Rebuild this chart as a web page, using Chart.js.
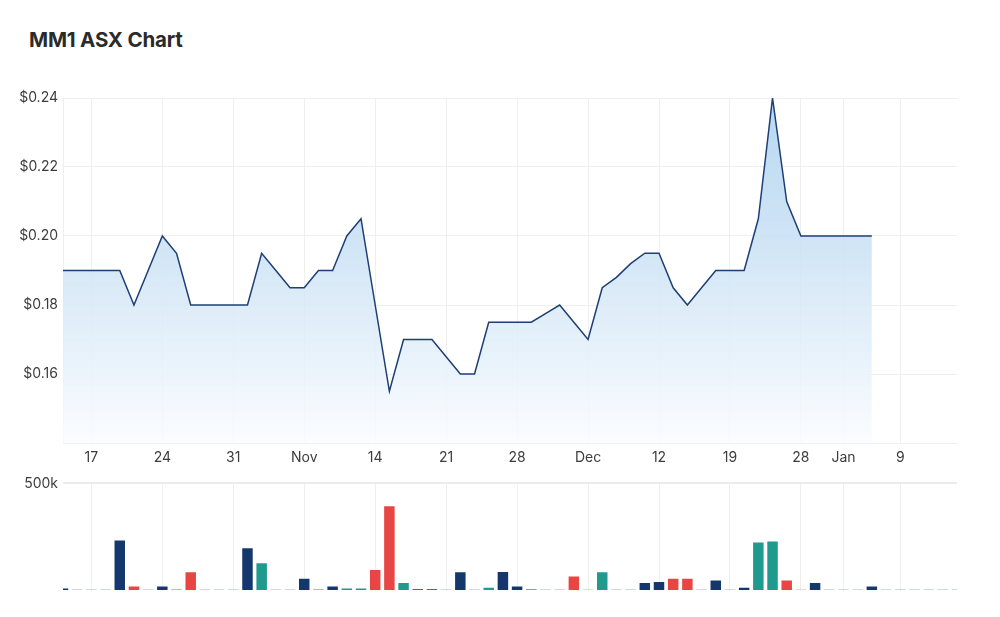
<!DOCTYPE html>
<html>
<head>
<meta charset="utf-8">
<script src="https://cdn.jsdelivr.net/npm/chart.js@4/dist/chart.umd.min.js"></script>
<style>
  html, body { margin: 0; padding: 0; background: #fff; }
  body { width: 1000px; height: 617px; position: relative; overflow: hidden; font-family: Inter, "Noto Sans", sans-serif; }
  #title { position: absolute; left: 29px; top: 27px; font-size: 20.5px; font-weight: 700; color: #2b2b2b; letter-spacing: -0.2px; }
  #priceWrap { position: absolute; left: 0; top: 80px; width: 1000px; height: 390px; }
  #volWrap { position: absolute; left: 0; top: 470px; width: 1000px; height: 147px; }
</style>
</head>
<body>
<div id="title">MM1 ASX Chart</div>
<div id="priceWrap"><canvas id="price" width="1000" height="390"></canvas></div>
<div id="volWrap"><canvas id="vol" width="1000" height="147"></canvas></div>
<script>
// Trading days (category axis)
const dates = [
  'Oct 13','Oct 14',
  'Oct 17','Oct 18','Oct 19','Oct 20','Oct 21',
  'Oct 24','Oct 25','Oct 26','Oct 27','Oct 28',
  'Oct 31','Nov 1','Nov 2','Nov 3','Nov 4',
  'Nov 7','Nov 8','Nov 9','Nov 10','Nov 11',
  'Nov 14','Nov 15','Nov 16','Nov 17','Nov 18',
  'Nov 21','Nov 22','Nov 23','Nov 24','Nov 25',
  'Nov 28','Nov 29','Nov 30','Dec 1','Dec 2',
  'Dec 5','Dec 6','Dec 7','Dec 8','Dec 9',
  'Dec 12','Dec 13','Dec 14','Dec 15','Dec 16',
  'Dec 19','Dec 20','Dec 21','Dec 22','Dec 23',
  'Dec 28','Dec 29','Dec 30',
  'Jan 3','Jan 4','Jan 5','Jan 6',
  'Jan 9','Jan 10','Jan 11','Jan 12','Jan 13'
];

// X tick labels (date, label)
const tickDates  = ['Oct 17','Oct 24','Oct 31','Nov 7','Nov 14','Nov 21','Nov 28','Dec 5','Dec 12','Dec 19','Dec 28','Jan 3','Jan 9'];
const tickLabels = ['17','24','31','Nov','14','21','28','Dec','12','19','28','Jan','9'];

// Close price (null = no data yet)
const prices = [
  0.19, 0.19,
  0.19, 0.19, 0.19, 0.18, 0.19,
  0.20, 0.195, 0.18, 0.18, 0.18,
  0.18, 0.18, 0.195, 0.19, 0.185,
  0.185, 0.19, 0.19, 0.20, 0.205,
  0.18, 0.155, 0.17, 0.17, 0.17,
  0.165, 0.16, 0.16, 0.175, 0.175,
  0.175, 0.175, 0.1775, 0.18, 0.175,
  0.17, 0.185, 0.188, 0.192, 0.195,
  0.195, 0.185, 0.18, 0.185, 0.19,
  0.19, 0.19, 0.205, 0.24, 0.21,
  0.20, 0.20, 0.20,
  0.20, 0.20, 0.20, null,
  null, null, null, null, null
];

// Volume
const volumes = [
  16000, 0,
  0, 0, 239000, 26000, 0,
  26000, 8000, 92000, 0, 0,
  0, 203000, 134000, 0, 0,
  62000, 8000, 26000, 16000, 16000,
  102000, 398000, 42000, 11000, 11000,
  0, 92000, 0, 20000, 93000,
  26000, 8000, 0, 0, 72000,
  0, 92000, 0, 0, 42000,
  47000, 62000, 62000, 0, 53000,
  0, 20000, 230000, 235000, 53000,
  0, 42000, 0,
  0, 0, 26000, 0,
  0, 0, 0, 0, 0
];

// Volume bar type: u = up (teal), d = down (red), n = neutral (navy)
const volTypes = [
  'n','n',
  'n','n','n','d','n',
  'n','d','d','n','n',
  'n','n','u','n','n',
  'n','u','n','u','u',
  'd','d','u','n','n',
  'n','n','n','u','n',
  'n','n','n','n','d',
  'd','u','n','n','n',
  'n','d','d','n','n',
  'n','n','u','u','d',
  'd','n','n',
  'n','n','n','n',
  'n','n','n','n','n'
];

const FONT = { family: 'Inter, "Noto Sans", sans-serif', size: 14 };
const TEXT = '#3d3d3d';
const GRID = '#efefef';
const LEFT_W = 63;

const tickIdx = tickDates.map(d => dates.indexOf(d));
function filterTicks(scale) {
  scale.ticks = scale.ticks.filter(t => tickIdx.includes(t.value));
}

const fullColor = { u: '#209a8e', d: '#e84645', n: '#15386c' };
const paleColor = { u: '#8fd0c9', d: '#f6aaa9', n: '#a3b1c8' };

new Chart(document.getElementById('price'), {
  type: 'line',
  data: {
    labels: dates,
    datasets: [{
      data: prices,
      borderColor: '#1d3f74',
      borderWidth: 1.5,
      pointRadius: 0,
      tension: 0,
      fill: 'start',
      spanGaps: false,
      backgroundColor: (ctx) => {
        const ca = ctx.chart.chartArea;
        if (!ca) return 'rgba(180,212,240,0.8)';
        const g = ctx.chart.ctx.createLinearGradient(0, ca.top, 0, ca.bottom);
        g.addColorStop(0, 'rgba(178,212,239,0.92)');
        g.addColorStop(0.4, 'rgba(202,225,244,0.9)');
        g.addColorStop(0.75, 'rgba(228,240,250,0.85)');
        g.addColorStop(1, 'rgba(250,252,255,0.8)');
        return g;
      }
    }]
  },
  options: {
    responsive: false,
    animation: false,
    layout: { padding: { top: 18, right: 43, left: 0, bottom: 0 } },
    plugins: { legend: { display: false }, tooltip: { enabled: false } },
    scales: {
      x: {
        type: 'category',
        offset: false,
        afterBuildTicks: filterTicks,
        afterFit: (s) => { s.height = 27; },
        grid: { color: GRID, drawTicks: false, offset: false },
        border: { color: GRID },
        ticks: {
          autoSkip: false, maxRotation: 0, padding: 6,
          color: TEXT, font: FONT,
          callback: (v) => tickLabels[tickIdx.indexOf(v)]
        }
      },
      y: {
        min: 0.14, max: 0.24,
        afterFit: (s) => { s.width = LEFT_W; },
        grid: { color: GRID, drawTicks: false },
        border: { color: GRID },
        ticks: {
          stepSize: 0.02, padding: 5,
          color: TEXT, font: FONT,
          callback: (v) => Math.abs(v - 0.14) < 1e-6 ? '' : '$' + v.toFixed(2)
        }
      }
    }
  }
});

new Chart(document.getElementById('vol'), {
  type: 'bar',
  data: {
    labels: dates,
    datasets: [{
      data: volumes,
      backgroundColor: volumes.map((v, i) => v === 0 ? paleColor[volTypes[i]] : fullColor[volTypes[i]]),
      borderColor: 'rgba(255,255,255,0.45)',
      borderWidth: 1,
      minBarLength: 2,
      barPercentage: 0.88,
      categoryPercentage: 1.0
    }]
  },
  options: {
    responsive: false,
    animation: false,
    layout: { padding: { top: 13, right: 43, left: 0, bottom: 26 } },
    plugins: { legend: { display: false }, tooltip: { enabled: false } },
    scales: {
      x: {
        type: 'category',
        offset: false,
        afterBuildTicks: filterTicks,
        grid: { color: GRID, drawTicks: false, offset: false },
        border: { display: false },
        ticks: { display: false }
      },
      y: {
        min: 0, max: 500000,
        afterFit: (s) => { s.width = LEFT_W; },
        grid: { color: (c) => c.tick && c.tick.value === 500000 ? '#ebebeb' : 'rgba(0,0,0,0)', lineWidth: 2, drawTicks: false },
        border: { display: false },
        ticks: {
          stepSize: 500000, padding: 5,
          color: TEXT, font: FONT,
          callback: (v) => v === 500000 ? '500k' : ''
        }
      }
    }
  }
});
</script>
</body>
</html>
